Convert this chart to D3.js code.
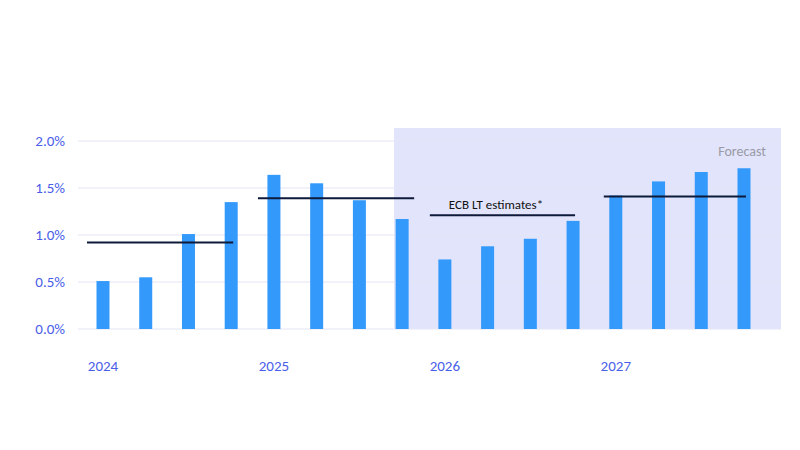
<!DOCTYPE html>
<html><head><meta charset="utf-8">
<script src="https://cdn.jsdelivr.net/npm/d3@7"></script>
<style>body{margin:0;background:#fff}</style>
</head><body><svg id="chart"></svg>
<script>
const quarters = ['2024Q1','2024Q2','2024Q3','2024Q4','2025Q1','2025Q2','2025Q3','2025Q4',
  '2026Q1','2026Q2','2026Q3','2026Q4','2027Q1','2027Q2','2027Q3','2027Q4'];
const values = [0.51,0.55,1.01,1.35,1.64,1.55,1.37,1.17,0.74,0.88,0.96,1.15,1.42,1.57,1.67,1.71];
const yearLabels = ['2024','2025','2026','2027'];
const estimates = [0.92,1.39,1.21,1.41];
const yTicks = [0,0.5,1,1.5,2];

const width = 800, height = 450;
const svg = d3.select('#chart').attr('width', width).attr('height', height);

const x = d3.scalePoint().domain(quarters).range([103, 744]);
const y = d3.scaleLinear().domain([0, 2]).range([329, 141]);
const barW = 13;

// forecast shading
svg.append('rect')
  .attr('x', 394).attr('y', 128)
  .attr('width', 781 - 394).attr('height', y(0) - 128)
  .attr('fill', '#e1e4fb');

// grid
svg.append('g').selectAll('line')
  .data(yTicks)
  .join('line')
  .attr('x1', 78).attr('x2', 781)
  .attr('y1', d => y(d)).attr('y2', d => y(d))
  .attr('stroke', '#e4e6f4').attr('stroke-width', 1);

const yAxis = svg.append('g')
  .attr('transform', 'translate(68,0)')
  .call(d3.axisLeft(y).tickValues(yTicks).tickFormat(d => d.toFixed(1) + '%').tickSize(0));
yAxis.select('.domain').remove();
yAxis.selectAll('text')
  .attr('fill', '#4a5ee8').attr('font-family', 'Calibri, Carlito, "Open Sans", sans-serif')
  .attr('font-size', 15);

svg.append('g')
  .selectAll('rect')
  .data(values)
  .join('rect')
  .attr('x', (d, i) => x(quarters[i]) - barW / 2)
  .attr('y', d => y(d))
  .attr('width', barW)
  .attr('height', d => y(0) - y(d))
  .attr('fill', '#3399fb');

// year labels
svg.append('g').selectAll('text')
  .data(yearLabels)
  .join('text')
  .attr('x', (d, i) => x(quarters[i * 4]))
  .attr('y', 371)
  .attr('text-anchor', 'middle')
  .attr('fill', '#4a5ee8')
  .attr('font-family', 'Calibri, Carlito, "Open Sans", sans-serif')
  .attr('font-size', 15)
  .text(d => d);

// ECB LT estimate lines
svg.append('g').selectAll('line')
  .data(estimates)
  .join('line')
  .attr('x1', (d, i) => x(quarters[i * 4]) - 16 - (i === 3 ? -4 : 0) + (i === 2 ? 1 : 0))
  .attr('x2', (d, i) => x(quarters[i * 4 + 3]) + 2 + (i === 1 ? 10 : 0))
  .attr('y1', d => y(d)).attr('y2', d => y(d))
  .attr('stroke', '#0d1a3a').attr('stroke-width', 2);

svg.append('text')
  .attr('x', 496).attr('y', 209)
  .attr('text-anchor', 'middle')
  .attr('fill', '#111')
  .attr('font-family', 'Calibri, Carlito, "Open Sans", sans-serif')
  .attr('font-size', 13)
  .text('ECB LT estimates*');

svg.append('text')
  .attr('x', 766).attr('y', 156)
  .attr('text-anchor', 'end')
  .attr('fill', '#9a9aa6')
  .attr('font-family', 'Calibri, Carlito, "Open Sans", sans-serif')
  .attr('font-size', 14)
  .text('Forecast');
</script></body></html>
